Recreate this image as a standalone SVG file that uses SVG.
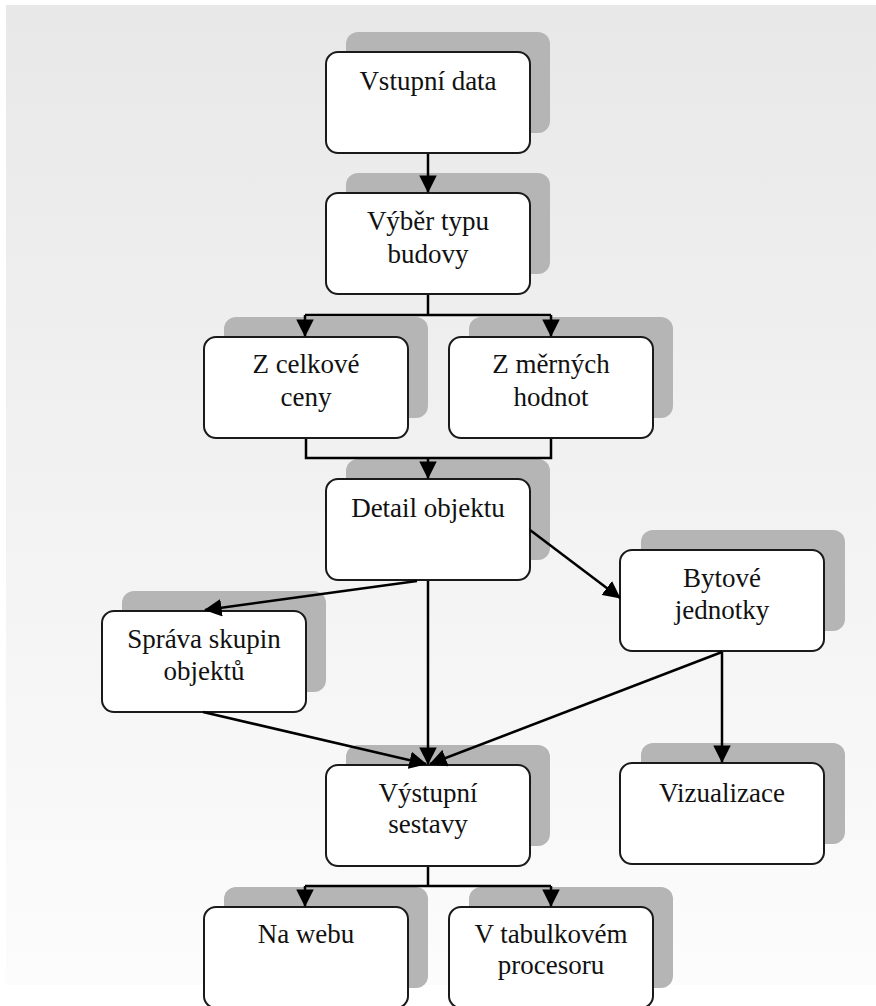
<svg xmlns="http://www.w3.org/2000/svg" width="876" height="1006" viewBox="0 0 876 1006">
  <defs>
    <linearGradient id="bg" x1="0" y1="0" x2="0" y2="1">
      <stop offset="0" stop-color="#e8e8e8"/>
      <stop offset="1" stop-color="#fcfcfc"/>
    </linearGradient>
    <marker id="arr" viewBox="0 0 10 10" markerUnits="strokeWidth" markerWidth="7" markerHeight="7" refX="9.5" refY="5" orient="auto">
      <path d="M0,0 L10,5 L0,10 z" fill="#000"/>
    </marker>
  </defs>
  <style>
    .sh { fill: #b5b5b5; }
    .bx { fill: #ffffff; stroke: #1a1a1a; stroke-width: 2; }
    text { font-family: 'Liberation Serif', 'Times New Roman', Times, serif; font-size: 27px; fill: #111; text-anchor: middle; }
    .c { fill: none; stroke: #000; stroke-width: 2.5; }
    .a { marker-end: url(#arr); }
  </style>
  <rect x="0" y="0" width="876" height="1006" fill="#ffffff"/>
  <rect x="6" y="5" width="870" height="980" fill="url(#bg)"/>

  <g id="vstupni-data">
    <rect class="sh" x="346" y="32" width="204" height="101" rx="12"/>
    <rect class="bx" x="326" y="52" width="204" height="101" rx="12"/>
    <text x="428" y="90">Vstupní data</text>
  </g>
  <g id="vyber-typu">
    <rect class="sh" x="346" y="173" width="204" height="101" rx="12"/>
    <rect class="bx" x="326" y="193" width="204" height="101" rx="12"/>
    <text x="428" y="230">Výběr typu</text>
    <text x="428" y="263">budovy</text>
  </g>
  <g id="z-celkove">
    <rect class="sh" x="224" y="317" width="204" height="101" rx="12"/>
    <rect class="bx" x="204" y="337" width="204" height="101" rx="12"/>
    <text x="306" y="373">Z celkové</text>
    <text x="306" y="406">ceny</text>
  </g>
  <g id="z-mernych">
    <rect class="sh" x="469" y="317" width="204" height="101" rx="12"/>
    <rect class="bx" x="449" y="337" width="204" height="101" rx="12"/>
    <text x="551" y="373">Z měrných</text>
    <text x="551" y="406">hodnot</text>
  </g>
  <g id="detail-objektu">
    <rect class="sh" x="346" y="459" width="204" height="101" rx="12"/>
    <rect class="bx" x="326" y="479" width="204" height="101" rx="12"/>
    <text x="428" y="517">Detail objektu</text>
  </g>
  <g id="bytove-jednotky">
    <rect class="sh" x="641" y="530" width="204" height="101" rx="12"/>
    <rect class="bx" x="620" y="550" width="204" height="101" rx="12"/>
    <text x="722" y="587">Bytové</text>
    <text x="722" y="619">jednotky</text>
  </g>
  <g id="sprava-skupin">
    <rect class="sh" x="122" y="591" width="204" height="101" rx="12"/>
    <rect class="bx" x="102" y="611" width="204" height="101" rx="12"/>
    <text x="204" y="648">Správa skupin</text>
    <text x="204" y="680">objektů</text>
  </g>
  <g id="vystupni-sestavy">
    <rect class="sh" x="346" y="745" width="204" height="101" rx="12"/>
    <rect class="bx" x="326" y="765" width="204" height="101" rx="12"/>
    <text x="428" y="802">Výstupní</text>
    <text x="428" y="833">sestavy</text>
  </g>
  <g id="vizualizace">
    <rect class="sh" x="641" y="743" width="204" height="101" rx="12"/>
    <rect class="bx" x="620" y="763" width="204" height="101" rx="12"/>
    <text x="722" y="802">Vizualizace</text>
  </g>
  <g id="na-webu">
    <rect class="sh" x="224" y="887" width="204" height="101" rx="12"/>
    <rect class="bx" x="204" y="907" width="204" height="101" rx="12"/>
    <text x="306" y="943">Na webu</text>
  </g>
  <g id="v-tabulkovem">
    <rect class="sh" x="469" y="887" width="204" height="101" rx="12"/>
    <rect class="bx" x="449" y="907" width="204" height="101" rx="12"/>
    <text x="551" y="943">V tabulkovém</text>
    <text x="551" y="974">procesoru</text>
  </g>

  <g id="connectors">
    <path class="c a" d="M428,154 V192"/>
    <path class="c" d="M428,295 V315 M305,315 H551"/>
    <path class="c a" d="M305,315 V336"/>
    <path class="c a" d="M551,315 V336"/>
    <path class="c" d="M306,439 V458 H551 V439"/>
    <path class="c a" d="M428,458 V478"/>
    <path class="c a" d="M417,581 L205,610"/>
    <path class="c a" d="M428,581 V764"/>
    <path class="c a" d="M530,530 L620,598"/>
    <path class="c a" d="M203,712 L426,764"/>
    <path class="c a" d="M722,652 L430,764"/>
    <path class="c a" d="M722,652 V762"/>
    <path class="c" d="M428,867 V886 M305,886 H551"/>
    <path class="c a" d="M305,886 V906"/>
    <path class="c a" d="M551,886 V906"/>
  </g>
</svg>
